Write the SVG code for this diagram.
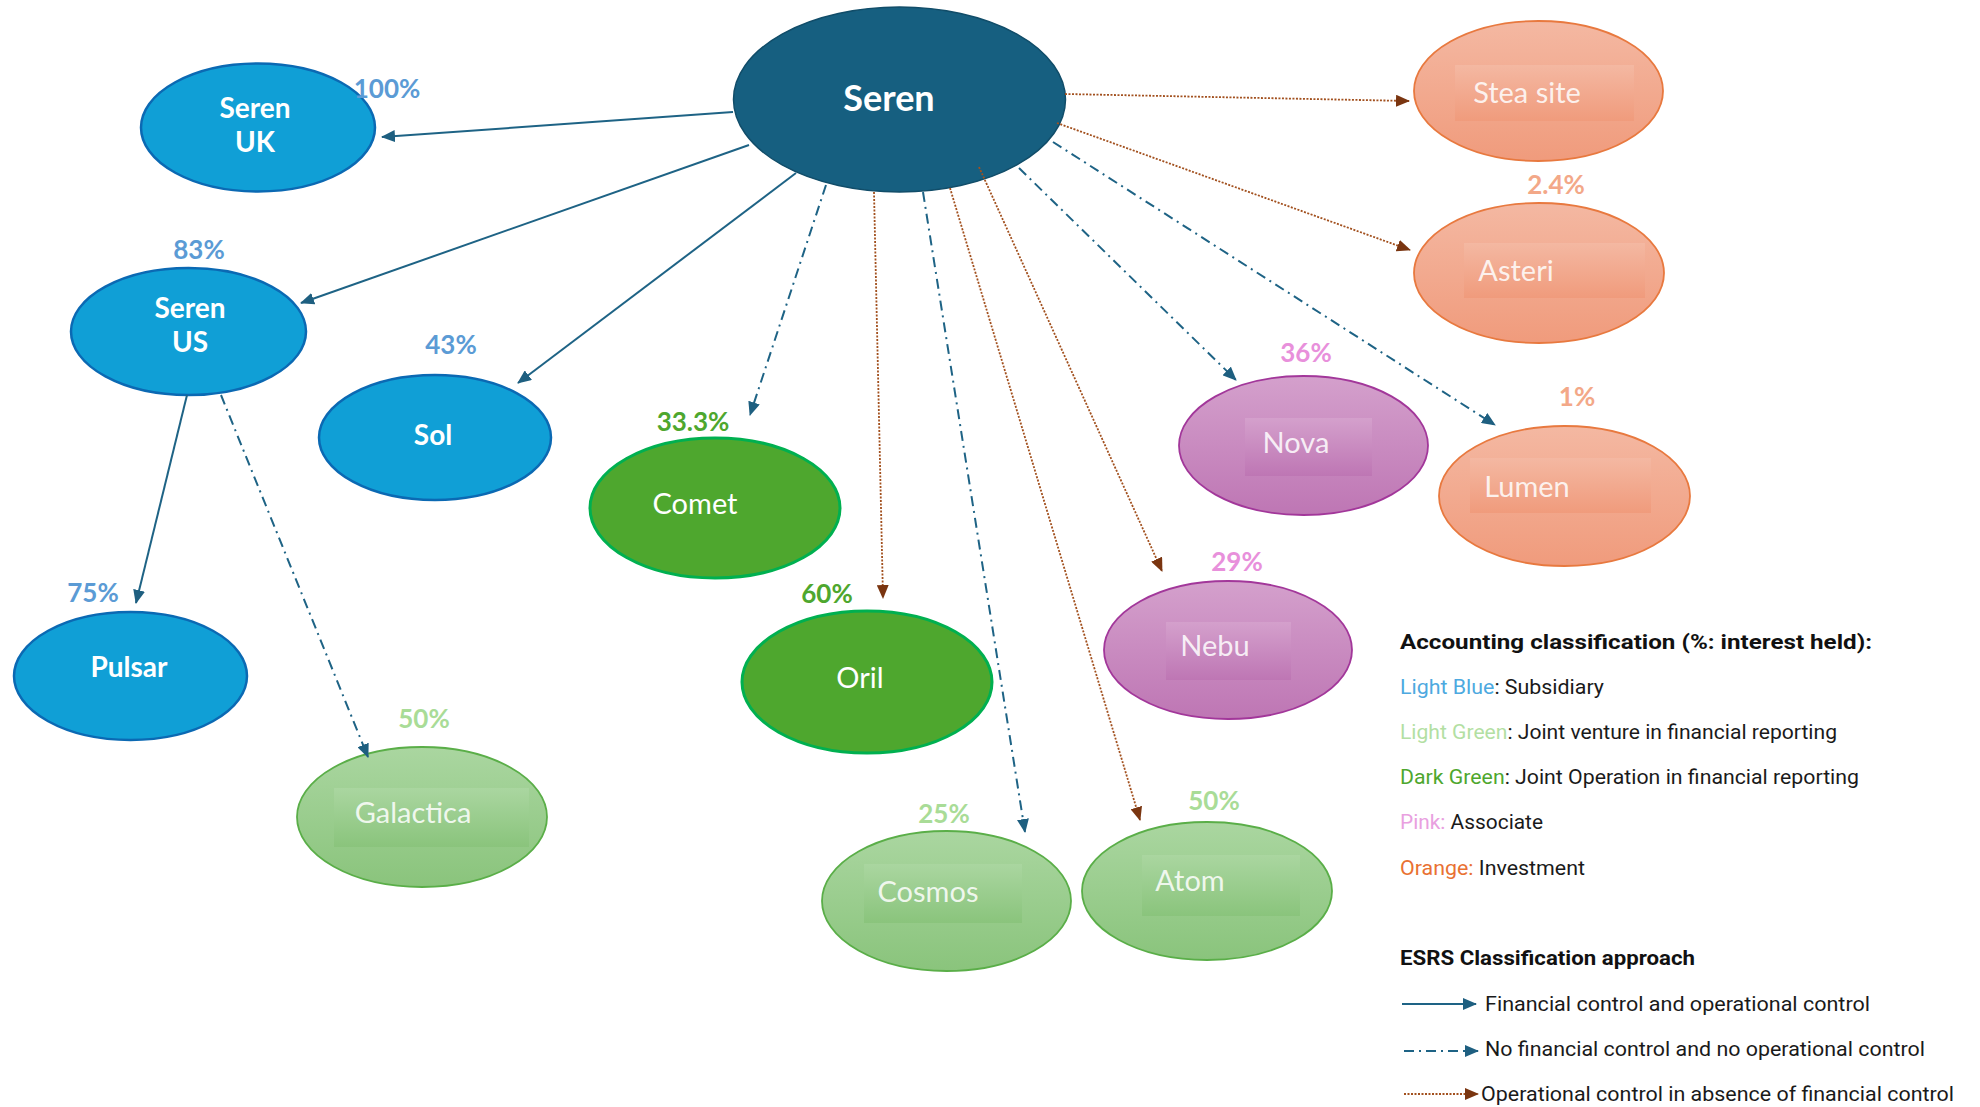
<svg xmlns="http://www.w3.org/2000/svg" width="1980" height="1107" viewBox="0 0 1980 1107">
<style>
.bg{fill:#ffffff}
.main{fill:#165F80;stroke:#114D69;stroke-width:1.5}
.blue{fill:#109FD6;stroke:#0B69B3;stroke-width:2.5}
.dg{fill:#4EA72E;stroke:#00B050;stroke-width:3}
.lg{fill:url(#gLG);stroke:#5AAE48;stroke-width:1.8}
.pk{fill:url(#gPK);stroke:#A2379A;stroke-width:1.8}
.or{fill:url(#gOR);stroke:#E8793F;stroke-width:1.8}
.lgr{fill:url(#gLG)}
.pkr{fill:url(#gPK)}
.orr{fill:url(#gOR)}
.lb{font-family:Lato,"Liberation Sans",sans-serif;font-weight:700;fill:#ffffff;text-anchor:middle}
.ln{font-family:Lato,"Liberation Sans",sans-serif;font-weight:400;fill:#ffffff;text-anchor:middle;font-size:29px}
.lt{font-family:Lato,"Liberation Sans",sans-serif;font-weight:400;fill:#ffffff;fill-opacity:0.85;text-anchor:middle;font-size:29px}
.pc{font-family:Lato,"Liberation Sans",sans-serif;font-weight:700;font-size:26px;text-anchor:middle}
.pb{fill:#5B9BD5}
.pdg{fill:#4EA72E}
.plg{fill:#A9DC97}
.ppk{fill:#E890DB}
.por{fill:#F3A888}
.cb{fill:none;stroke:#1E6385;stroke-width:2}
.cd{fill:none;stroke:#1E6385;stroke-width:2;stroke-dasharray:10 5 2 5}
.cr{fill:none;stroke:#A2501E;stroke-width:1.8;stroke-dasharray:2 1.5}
.leg{font-family:Roboto,"Liberation Sans",sans-serif;font-size:20px;fill:#1a1a1a}
.legh{font-family:Roboto,"Liberation Sans",sans-serif;font-size:21px;font-weight:700;fill:#111111}
</style>
<defs>
<linearGradient id="gLG" x1="0" y1="0" x2="0" y2="1"><stop offset="0" stop-color="#AAD6A0"/><stop offset="1" stop-color="#8AC47C"/></linearGradient>
<linearGradient id="gPK" x1="0" y1="0" x2="0" y2="1"><stop offset="0" stop-color="#D4A0CC"/><stop offset="1" stop-color="#BE76B4"/></linearGradient>
<linearGradient id="gOR" x1="0" y1="0" x2="0" y2="1"><stop offset="0" stop-color="#F4B8A2"/><stop offset="1" stop-color="#F09B7C"/></linearGradient>
<marker id="ab" markerUnits="userSpaceOnUse" markerWidth="14" markerHeight="12" refX="13" refY="6" orient="auto"><path d="M0,0 L14,6 L0,12 z" fill="#1E5F80"/></marker>
<marker id="ar" markerUnits="userSpaceOnUse" markerWidth="14" markerHeight="12" refX="13" refY="6" orient="auto"><path d="M0,0 L14,6 L0,12 z" fill="#7A3510"/></marker>
</defs>
<rect class="bg" x="0" y="0" width="1980" height="1107"/>

<g id="node-seren">
<ellipse class="main" cx="899.5" cy="99.5" rx="166" ry="92.5"/>
<text class="lb" x="889" y="111" font-size="36">Seren</text>
</g>
<g id="node-seren-uk">
<ellipse class="blue" cx="258" cy="127.5" rx="117" ry="64"/>
<text class="lb" x="255" y="118" font-size="28">Seren</text>
<text class="lb" x="255" y="152" font-size="28">UK</text>
<text class="pc pb" x="387" y="98">100%</text>
</g>
<g id="node-seren-us">
<ellipse class="blue" cx="188.5" cy="331.5" rx="117.5" ry="63.5"/>
<text class="lb" x="190" y="318" font-size="28">Seren</text>
<text class="lb" x="190" y="352" font-size="28">US</text>
<text class="pc pb" x="199" y="259">83%</text>
</g>
<g id="node-sol">
<ellipse class="blue" cx="435" cy="437.5" rx="116" ry="62.5"/>
<text class="lb" x="433" y="445" font-size="28">Sol</text>
<text class="pc pb" x="451" y="354">43%</text>
</g>
<g id="node-pulsar">
<ellipse class="blue" cx="130.5" cy="676" rx="116.5" ry="64"/>
<text class="lb" x="129" y="677" font-size="28">Pulsar</text>
<text class="pc pb" x="93" y="602">75%</text>
</g>
<g id="node-comet">
<ellipse class="dg" cx="715" cy="508" rx="125" ry="70"/>
<text class="ln" x="695" y="514">Comet</text>
<text class="pc pdg" x="693" y="431">33.3%</text>
</g>
<g id="node-oril">
<ellipse class="dg" cx="867" cy="682" rx="125" ry="71"/>
<text class="ln" x="860" y="688">Oril</text>
<text class="pc pdg" x="827" y="603">60%</text>
</g>
<g id="node-galactica">
<ellipse class="lg" cx="422" cy="817" rx="125" ry="70"/>
<rect class="lgr" x="334" y="788" width="195" height="59"/>
<text class="lt" x="413" y="823">Galactica</text>
<text class="pc plg" x="424" y="728">50%</text>
</g>
<g id="node-cosmos">
<ellipse class="lg" cx="946.5" cy="901" rx="124.5" ry="70"/>
<rect class="lgr" x="864" y="864" width="158" height="59"/>
<text class="lt" x="928" y="902">Cosmos</text>
<text class="pc plg" x="944" y="823">25%</text>
</g>
<g id="node-atom">
<ellipse class="lg" cx="1207" cy="891" rx="125" ry="69"/>
<rect class="lgr" x="1142" y="855" width="158" height="61"/>
<text class="lt" x="1190" y="891">Atom</text>
<text class="pc plg" x="1214" y="810">50%</text>
</g>
<g id="node-nova">
<ellipse class="pk" cx="1303.5" cy="445.5" rx="124.5" ry="69.5"/>
<rect class="pkr" x="1245" y="418" width="127" height="58"/>
<text class="lt" x="1296" y="453">Nova</text>
<text class="pc ppk" x="1306" y="362">36%</text>
</g>
<g id="node-nebu">
<ellipse class="pk" cx="1228" cy="650" rx="124" ry="69"/>
<rect class="pkr" x="1166" y="622" width="125" height="58"/>
<text class="lt" x="1215" y="656">Nebu</text>
<text class="pc ppk" x="1237" y="571">29%</text>
</g>
<g id="node-stea">
<ellipse class="or" cx="1538.5" cy="91" rx="124.5" ry="70"/>
<rect class="orr" x="1455" y="65" width="179" height="56"/>
<text class="lt" x="1527" y="103">Stea site</text>
</g>
<g id="node-asteri">
<ellipse class="or" cx="1539" cy="273" rx="125" ry="70"/>
<rect class="orr" x="1464" y="243" width="181" height="55"/>
<text class="lt" x="1516" y="281">Asteri</text>
<text class="pc por" x="1556" y="194">2.4%</text>
</g>
<g id="node-lumen">
<ellipse class="or" cx="1564.5" cy="496" rx="125.5" ry="70"/>
<rect class="orr" x="1470" y="458" width="181" height="55"/>
<text class="lt" x="1527" y="497">Lumen</text>
<text class="pc por" x="1577" y="406">1%</text>
</g>

<g id="connectors">
<line class="cb" x1="733" y1="112" x2="382" y2="137" marker-end="url(#ab)"/>
<line class="cb" x1="749" y1="145" x2="301" y2="303" marker-end="url(#ab)"/>
<line class="cb" x1="796" y1="173" x2="518" y2="383" marker-end="url(#ab)"/>
<line class="cb" x1="187" y1="395" x2="136" y2="603" marker-end="url(#ab)"/>
<line class="cd" x1="221" y1="395" x2="368" y2="757" marker-end="url(#ab)"/>
<line class="cd" x1="826" y1="185" x2="750" y2="415" marker-end="url(#ab)"/>
<line class="cd" x1="923" y1="192" x2="1025" y2="832" marker-end="url(#ab)"/>
<line class="cd" x1="1019" y1="168" x2="1236" y2="380" marker-end="url(#ab)"/>
<line class="cd" x1="1053" y1="142" x2="1495" y2="425" marker-end="url(#ab)"/>
<line class="cr" x1="874" y1="192" x2="883" y2="598" marker-end="url(#ar)"/>
<line class="cr" x1="950" y1="188" x2="1140" y2="820" marker-end="url(#ar)"/>
<line class="cr" x1="979" y1="167" x2="1162" y2="571" marker-end="url(#ar)"/>
<line class="cr" x1="1057" y1="123" x2="1410" y2="250" marker-end="url(#ar)"/>
<line class="cr" x1="1065" y1="94" x2="1409" y2="101" marker-end="url(#ar)"/>
</g>

<g id="legend">
<text class="legh" x="1400" y="649" textLength="472" lengthAdjust="spacingAndGlyphs">Accounting classification (%: interest held):</text>
<text class="leg" x="1400" y="694" textLength="204" lengthAdjust="spacingAndGlyphs"><tspan fill="#4DA9E0">Light Blue</tspan>: Subsidiary</text>
<text class="leg" x="1400" y="739" textLength="437" lengthAdjust="spacingAndGlyphs"><tspan fill="#B3DFA3">Light Green</tspan>: Joint venture in financial reporting</text>
<text class="leg" x="1400" y="784" textLength="459" lengthAdjust="spacingAndGlyphs"><tspan fill="#4EA72E">Dark Green</tspan>: Joint Operation in financial reporting</text>
<text class="leg" x="1400" y="829" textLength="143" lengthAdjust="spacingAndGlyphs"><tspan fill="#E9A0E0">Pink:</tspan> Associate</text>
<text class="leg" x="1400" y="875" textLength="185" lengthAdjust="spacingAndGlyphs"><tspan fill="#E97132">Orange:</tspan> Investment</text>
<text class="legh" x="1400" y="965" textLength="295" lengthAdjust="spacingAndGlyphs">ESRS Classification approach</text>
<line class="cb" x1="1402" y1="1004" x2="1476" y2="1004" stroke-width="1.6" marker-end="url(#ab)"/>
<text class="leg" x="1485" y="1011" textLength="385" lengthAdjust="spacingAndGlyphs">Financial control and operational control</text>
<line class="cd" x1="1404" y1="1051" x2="1478" y2="1051" stroke-width="1.4" stroke-dasharray="7 3 1.5 3" marker-end="url(#ab)"/>
<text class="leg" x="1485" y="1056" textLength="440" lengthAdjust="spacingAndGlyphs">No financial control and no operational control</text>
<line class="cr" x1="1404" y1="1094" x2="1478" y2="1094" stroke-width="1.2" stroke-dasharray="1.5 1" marker-end="url(#ar)"/>
<text class="leg" x="1481" y="1101" textLength="473" lengthAdjust="spacingAndGlyphs">Operational control in absence of financial control</text>
</g>
</svg>
